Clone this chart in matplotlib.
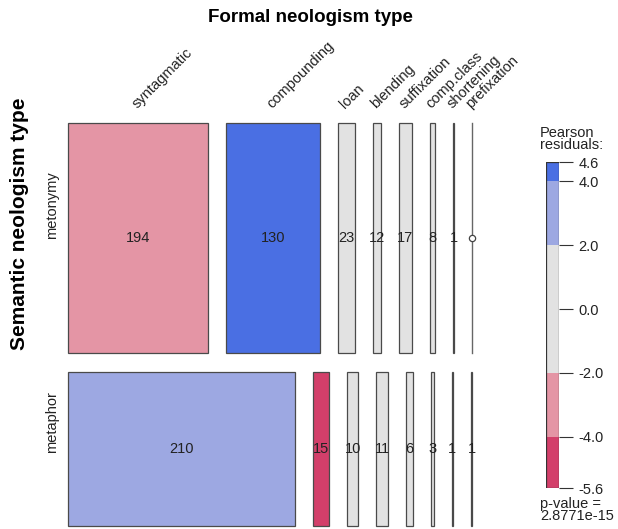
import numpy as np
import matplotlib
matplotlib.use("Agg")
import matplotlib.pyplot as plt
from matplotlib.patches import Rectangle

plt.rcParams['font.family'] = ['Liberation Sans', 'DejaVu Sans']

# ---- data ----
formal_types = ["syntagmatic", "compounding", "loan", "blending", "suffixation",
                "comp.class", "shortening", "prefixation"]
semantic_types = ["metonymy", "metaphor"]
metonymy_counts = [194, 130, 23, 12, 17, 8, 1, 0]
metaphor_counts = [210, 15, 10, 11, 6, 3, 1, 1]
legend_ticks = [4.6, 4.0, 2.0, 0.0, -2.0, -4.0, -5.6]
p_value_text = "p-value =\n2.8771e-15"

counts = np.array([metonymy_counts, metaphor_counts], dtype=float)
total = counts.sum()
expected = np.outer(counts.sum(axis=1), counts.sum(axis=0)) / total
residuals = (counts - expected) / np.sqrt(expected)

col_strong_pos = "#4A6FE3"
col_pos = "#9DA8E2"
col_neutral = "#E2E2E2"
col_neg = "#E495A5"
col_strong_neg = "#D33F6A"


def shade(r):
    if r > 4:
        return col_strong_pos
    if r > 2:
        return col_pos
    if r < -4:
        return col_strong_neg
    if r < -2:
        return col_neg
    return col_neutral


W, H = 618, 529
fig = plt.figure(figsize=(W / 100, H / 100), dpi=100)

# mosaic axes (pixel-like units inside)
L, R, T, B = 68, 472, 123, 526
ax = fig.add_axes([L / W, 1 - B / H, (R - L) / W, (B - T) / H])
aw, ah = R - L, B - T
ax.set_xlim(0, aw)
ax.set_ylim(ah, 0)
ax.axis("off")

gap_x, gap_y = 18.0, 19.0
ncol = len(formal_types)
row_tot = counts.sum(axis=1)
avail_h = ah - gap_y * (len(semantic_types) - 1)
y0 = 0.0
row_bounds = []
for i in range(len(semantic_types)):
    h = avail_h * row_tot[i] / total
    row_bounds.append((y0, h))
    avail_w = aw - gap_x * (ncol - 1)
    x0 = 0.0
    for j in range(ncol):
        w = avail_w * counts[i, j] / row_tot[i]
        c = counts[i, j]
        if c == 0:
            ax.plot([x0, x0], [y0, y0 + h], color="#666666", lw=1.0, clip_on=False)
            ax.plot([x0], [y0 + h / 2], marker="o", ms=4.5, mfc="white",
                    mec="#444444", mew=0.9, clip_on=False)
        else:
            ax.add_patch(Rectangle((x0, y0), w, h, facecolor=shade(residuals[i, j]),
                                   edgecolor="#4a4a4a", lw=0.9, clip_on=False))
            ax.text(x0 + w / 2, y0 + h / 2, f"{int(c)}", ha="center", va="center",
                    fontsize=10.5, color="#222222")
        if i == 0:
            ax.text(x0 + w / 2 - 1, -14, formal_types[j], rotation=45,
                    rotation_mode="anchor", ha="left", va="baseline",
                    fontsize=10.5, color="#222222", clip_on=False)
        x0 += w + gap_x
    y0 += h + gap_y

# row labels
label_offsets = [-33, -27]
for i, name in enumerate(semantic_types):
    yb, h = row_bounds[i]
    ax.text(-16, yb + h / 2 + label_offsets[i], name, rotation=90, ha="center",
            va="center", fontsize=10.5, color="#222222", clip_on=False)

fig.text(310 / W, 1 - 18 / H, "Formal neologism type", ha="center", va="center",
         fontsize=13.5, fontweight="bold")
fig.text(20 / W, 1 - 224 / H, "Semantic neologism type", ha="center", va="center",
         rotation=90, fontsize=15, fontweight="bold")

# legend colour bar
lt, lb = 162, 488
lax = fig.add_axes([546 / W, 1 - lb / H, 13 / W, (lb - lt) / H])
vmax, vmin = max(legend_ticks), min(legend_ticks)
bands = [(4.0, vmax, col_strong_pos), (2.0, 4.0, col_pos), (-2.0, 2.0, col_neutral),
         (-4.0, -2.0, col_neg), (vmin, -4.0, col_strong_neg)]
for lo, hi, c in bands:
    lax.add_patch(Rectangle((0, lo), 1, hi - lo, facecolor=c, edgecolor="none"))
lax.add_patch(Rectangle((0, vmin), 1, vmax - vmin, facecolor="none",
                        edgecolor="#333333", lw=0.9))
lax.set_xlim(0, 1)
lax.set_ylim(vmin, vmax)
lax.set_xticks([])
for s in lax.spines.values():
    s.set_visible(False)
lax.yaxis.tick_right()
lax.set_yticks(legend_ticks)
lax.set_yticklabels([f"{t:.1f}" for t in legend_ticks], fontsize=10.5, color="#222222")
lax.tick_params(axis="y", length=10, width=0.8, color="#333333", pad=4)

fig.text(540 / W, 1 - 139 / H, "Pearson\nresiduals:", ha="left", va="center",
         fontsize=10.5, color="#222222", linespacing=0.9)
fig.text(540 / W, 1 - 510 / H, p_value_text, ha="left", va="center",
         fontsize=10.5, color="#222222", linespacing=0.9)

fig.savefig("out.png", dpi=100)
